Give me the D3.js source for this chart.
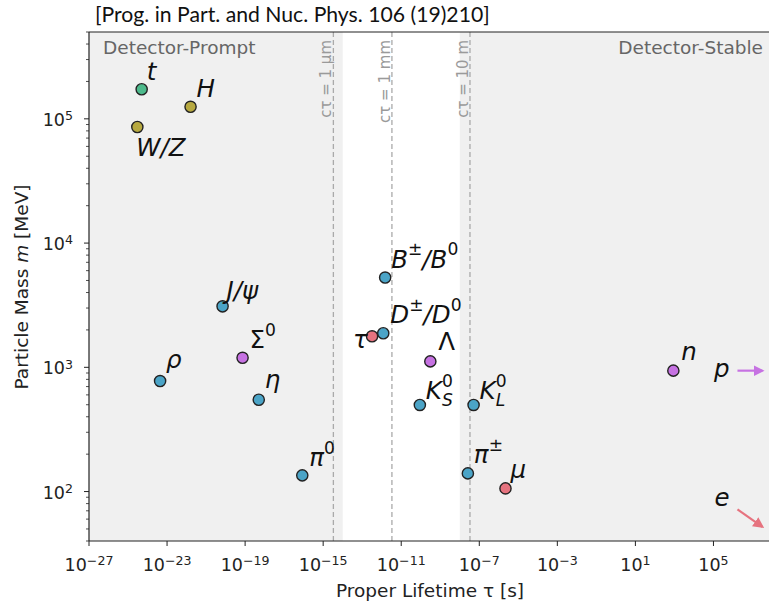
<!DOCTYPE html>
<html><head><meta charset="utf-8">
<script src="https://cdn.jsdelivr.net/npm/d3@7/dist/d3.min.js"></script>
<style>body{margin:0;background:#fff}svg{display:block}</style>
</head><body><svg id="c" width="769" height="603"></svg>
<script>
// ---- data ----
const names    = ["t","H","W/Z","J/ψ","Σ^{0}","ρ","η","π^{0}","B^{±}/B^{0}","D^{±}/D^{0}","τ","Λ","K_{S}^{0}","K_{L}^{0}","π^{±}","μ","n"];
const lifetimes= [5e-25,1.6e-22,3e-25,7e-21,7.4e-20,4.4e-24,5e-19,8.5e-17,1.5e-12,1.2e-12,3.2e-13,3.1e-10,9e-11,5.1e-8,2.6e-8,2.2e-6,880];
const masses   = [173000,125000,86000,3097,1193,775,548,135,5280,1880,1777,1116,498,498,140,106,940];
const groups   = ["quark","boson","boson","meson","baryon","meson","meson","meson","meson","meson","lepton","baryon","meson","meson","meson","lepton","baryon"];
const stableNames = ["p","e"];
const stableGroups = ["baryon","lepton"];
const stableFrom = [[1.7e6,940],[1.7e6,72]];
const stableTo   = [[3.2e7,940],[3.2e7,52]];
const ctauLabels = ["cτ = 1 μm","cτ = 1 mm","cτ = 10 m"];
const ctauValues = [1e-6/3e8, 1e-3/3e8, 10/3e8];
const shadeSpans = [[1e-27,1e-14],[1e-8,1e8]];
const xTickExps = [-27,-23,-19,-15,-11,-7,-3,1,5];
const yTickExps = [2,3,4,5];
const regionLabels = ["Detector-Prompt","Detector-Stable"];
const title = "[Prog. in Part. and Nuc. Phys. 106 (19)210]";
// ---- styles / layout ----
const colors = {quark:"#4dba8c",boson:"#b7a940",meson:"#4ba4c7",baryon:"#c672e2",lepton:"#e6737f"};
const labelOffsets = [[5,-9],[6,-10],[-1,29],[4,-7],[7,-10],[6,-13],[6,-12],[7,-9],[6,-10],[7,-10],[-19,12],[8,-11],[6,-6],[6,-6],[6,-10],[5,-10],[8,-11]];
const L=89, T=32, R=772, B=541;
const svg = d3.select("#c");
const x = d3.scaleLog().domain([1e-27,1e8]).range([L,R]);
const y = d3.scaleLog().domain([40,5e5]).range([B,T]);
const font = "DejaVu Sans, sans-serif";
const uprightGreek = "ΓΔΘΛΞΠΣΦΨΩ";

// background spans
svg.append("g").selectAll("rect").data(shadeSpans).join("rect")
  .attr("x",d=>x(d[0])).attr("y",T).attr("width",d=>Math.min(x(d[1]),R)-x(d[0])).attr("height",B-T)
  .attr("fill","#f0f0f0");

// ctau lines
svg.append("g").selectAll("line").data(ctauValues).join("line")
  .attr("x1",d=>x(d)).attr("x2",d=>x(d)).attr("y1",T).attr("y2",B)
  .attr("stroke","#aaaaaa").attr("stroke-width",1.3).attr("stroke-dasharray","5,3");
svg.append("g").selectAll("text").data(ctauValues).join("text")
  .attr("transform",d=>`translate(${x(d)-2},${T+8}) rotate(-90)`)
  .attr("text-anchor","end").attr("font-family",font).attr("font-size",15).attr("fill","#9a9a9a")
  .text((d,i)=>ctauLabels[i]);

// region labels
svg.append("text").attr("x",103).attr("y",54).attr("font-family",font).attr("font-size",18.5).attr("fill","#666").text(regionLabels[0]);
svg.append("text").attr("x",763).attr("y",54).attr("text-anchor","end").attr("font-family",font).attr("font-size",18.5).attr("fill","#666").text(regionLabels[1]);

// axes
const ax = svg.append("g");
ax.append("line").attr("x1",L).attr("x2",R).attr("y1",T).attr("y2",T).attr("stroke","#222").attr("stroke-width",1.2);
ax.append("line").attr("x1",L).attr("x2",R).attr("y1",B).attr("y2",B).attr("stroke","#222").attr("stroke-width",1.2);
ax.append("line").attr("x1",L).attr("x2",L).attr("y1",T).attr("y2",B).attr("stroke","#222").attr("stroke-width",1.2);

function sup(sel, base, exp){
  sel.append("tspan").text(base);
  sel.append("tspan").attr("dy","-0.45em").attr("font-size","0.72em").text(exp);
}
// x ticks
const xt = ax.append("g").selectAll("g").data(xTickExps).join("g").attr("transform",d=>`translate(${x(Math.pow(10,d))},${B})`);
xt.append("line").attr("y1",0).attr("y2",5).attr("stroke","#222").attr("stroke-width",1);
xt.append("text").attr("y",30).attr("text-anchor","middle").attr("font-family",font).attr("font-size",17.5).attr("fill","#222")
  .each(function(d){ sup(d3.select(this),"10", d<0? "−"+(-d) : String(d)); });
// y ticks
const yMinor = [];
for (let e=1;e<=5;e++) for (let k=2;k<=9;k++){ const v=k*Math.pow(10,e); if(v>=40&&v<=5e5) yMinor.push(v); }
ax.append("g").selectAll("line").data(yMinor).join("line")
  .attr("x1",L-3).attr("x2",L).attr("y1",d=>y(d)).attr("y2",d=>y(d)).attr("stroke","#222").attr("stroke-width",0.8);
const yt = ax.append("g").selectAll("g").data(yTickExps).join("g").attr("transform",d=>`translate(${L},${y(Math.pow(10,d))})`);
yt.append("line").attr("x1",-5).attr("x2",0).attr("stroke","#222").attr("stroke-width",1);
yt.append("text").attr("x",-16).attr("y",7).attr("text-anchor","end").attr("font-family",font).attr("font-size",17.5).attr("fill","#222")
  .each(function(d){ sup(d3.select(this),"10", String(d)); });

// axis labels
const xl = svg.append("text").attr("x",430).attr("y",597).attr("text-anchor","middle").attr("font-family",font).attr("font-size",18.5).attr("fill","#222");
xl.append("tspan").text("Proper Lifetime "); xl.append("tspan").text("τ"); xl.append("tspan").text(" [s]");
const yl = svg.append("text").attr("transform","translate(28,287) rotate(-90)").attr("text-anchor","middle").attr("font-family",font).attr("font-size",18.5).attr("fill","#222");
yl.append("tspan").text("Particle Mass "); yl.append("tspan").attr("font-style","italic").text("m"); yl.append("tspan").text(" [MeV]");

// title, fitted to its width in the reference
const tt = svg.append("text").attr("x",95).attr("y",22).attr("font-family","Lato, sans-serif").attr("font-size",18.5).attr("fill","#111").text(title);
const tw = tt.node().getComputedTextLength();
if (tw>0) tt.attr("font-size", 18.5*395/tw);

// math label renderer
function mathLabel(sel, str){
  const re = /([^_^]+)|([_^])\{([^}]*)\}/g; let m; let shift=0; let prevSub=null;
  while((m=re.exec(str))){
    if(m[1]){
      let first = true;
      for (const ch of m[1]) {
        const t = sel.append("tspan").text(ch);
        if (uprightGreek.includes(ch)) t.attr("font-style","normal");
        if (first && shift) t.attr("dy",(-shift)+"em");
        first = false;
      }
      shift=0; prevSub=null;
    } else {
      const isSup = m[2]==="^";
      const amt = isSup? -0.5 : 0.3;
      const t = sel.append("tspan").attr("font-size","0.7em").attr("font-style", isSup?"normal":"italic");
      t.attr("dy", ((amt - shift)/0.7)+"em").text(m[3]);
      if(isSup && prevSub){ t.attr("dx", (-prevSub.node().getComputedTextLength())+"px"); }
      prevSub = isSup? null : t;
      shift = amt;
    }
  }
}

// points
const pts = svg.append("g");
pts.selectAll("circle").data(names).join("circle")
  .attr("cx",(d,i)=>x(lifetimes[i])).attr("cy",(d,i)=>y(masses[i])).attr("r",5.6)
  .attr("fill",(d,i)=>colors[groups[i]]).attr("stroke","#222").attr("stroke-width",1.4);
pts.selectAll("text").data(names).join("text")
  .attr("x",(d,i)=>x(lifetimes[i])+labelOffsets[i][0]).attr("y",(d,i)=>y(masses[i])+labelOffsets[i][1])
  .attr("font-family",font).attr("font-style","italic").attr("font-size",24.5).attr("fill","#111")
  .each(function(d){ mathLabel(d3.select(this), d); });

// stable arrows
const defs = svg.append("defs");
stableGroups.forEach((g,i)=>{
  defs.append("marker").attr("id","ah"+i).attr("viewBox","0 0 10 10").attr("refX",8).attr("refY",5)
    .attr("markerWidth",5).attr("markerHeight",5).attr("orient","auto")
    .append("path").attr("d","M0,0L10,5L0,10z").attr("fill",colors[g]);
});
const arr = svg.append("g");
arr.selectAll("line").data(stableNames).join("line")
  .attr("x1",(d,i)=>x(stableFrom[i][0])).attr("y1",(d,i)=>y(stableFrom[i][1]))
  .attr("x2",(d,i)=>x(stableTo[i][0])).attr("y2",(d,i)=>y(stableTo[i][1]))
  .attr("stroke",(d,i)=>colors[stableGroups[i]]).attr("stroke-width",2.2)
  .attr("marker-end",(d,i)=>`url(#ah${i})`);
arr.selectAll("text").data(stableNames).join("text")
  .attr("x",(d,i)=>x(stableFrom[i][0])-8).attr("y",(d,i)=>y(stableFrom[i][1])+(i===0?6:-3))
  .attr("text-anchor","end").attr("font-family",font).attr("font-style","italic").attr("font-size",24.5).attr("fill","#111")
  .text(d=>d);
</script></body></html>
